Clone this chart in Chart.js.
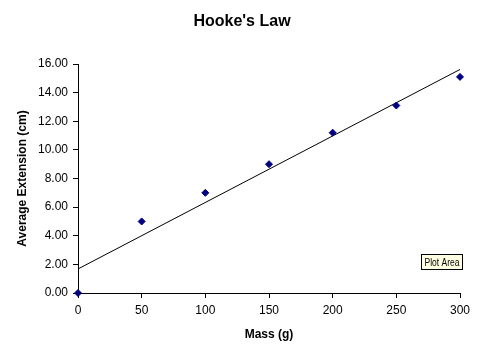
<!DOCTYPE html>
<html>
<head>
<meta charset="utf-8">
<style>
html,body{margin:0;padding:0;background:#fff;}
#wrap{width:481px;height:355px;position:relative;}
</style>
<script src="https://cdn.jsdelivr.net/npm/chart.js@4/dist/chart.umd.min.js"></script>
</head>
<body>
<div id="wrap"><canvas id="c" width="481" height="355"></canvas></div>
<script>
const massValues = [0, 50, 100, 150, 200, 250, 300];
const extensionValues = [0.00, 5.00, 7.00, 9.00, 11.20, 13.10, 15.10];
const trendMass = [0, 300];
const trendExtension = [1.68, 15.62];
const xTicks = [0, 50, 100, 150, 200, 250, 300];
const yTicks = [0, 2, 4, 6, 8, 10, 12, 14, 16];

const pointsData = massValues.map((m, i) => ({x: m, y: extensionValues[i]}));
const trendData = trendMass.map((m, i) => ({x: m, y: trendExtension[i]}));

const extras = {
  id: 'extras',
  afterDraw(chart) {
    const ctx = chart.ctx;
    ctx.save();
    // chart title
    ctx.fillStyle = '#000';
    ctx.font = 'bold 16px "Liberation Sans", Arial, sans-serif';
    ctx.textAlign = 'center';
    ctx.textBaseline = 'middle';
    ctx.fillText("Hooke's Law", 242, 22);
    // "Plot Area" label box
    const x = 421.5, y = 254.5, w = 41, h = 15;
    ctx.fillStyle = '#ffffe1';
    ctx.fillRect(x, y, w, h);
    ctx.strokeStyle = '#000';
    ctx.lineWidth = 1;
    ctx.strokeRect(x, y, w, h);
    ctx.fillStyle = '#000';
    ctx.font = '11px "Liberation Sans", Arial, sans-serif';
    const tw = ctx.measureText('Plot Area').width;
    const sx = Math.min(1, 35 / tw);
    ctx.translate(x + w / 2, y + h / 2 + 0.5);
    ctx.scale(sx, 1);
    ctx.textAlign = 'center';
    ctx.textBaseline = 'middle';
    ctx.fillText('Plot Area', 0, 0);
    ctx.restore();
  }
};

new Chart(document.getElementById('c'), {
  type: 'scatter',
  data: {
    datasets: [
      {
        type: 'line',
        data: trendData,
        borderColor: '#000',
        borderWidth: 1,
        pointRadius: 0,
        fill: false,
        tension: 0,
        order: 2
      },
      {
        data: pointsData,
        pointStyle: 'rectRot',
        pointRadius: 3.5,
        pointBackgroundColor: '#000080',
        pointBorderColor: '#000080',
        pointBorderWidth: 1,
        clip: false,
        order: 1
      }
    ]
  },
  options: {
    responsive: false,
    animation: false,
    devicePixelRatio: 1,
    layout: {padding: {left: 0, right: 21, top: 64, bottom: 0}},
    plugins: {
      legend: {display: false},
      tooltip: {enabled: false},
      title: {display: false}
    },
    scales: {
      x: {
        type: 'linear',
        min: 0, max: 300,
        afterFit(s) { s.height = 62; },
        afterBuildTicks(s) { s.ticks = xTicks.map(v => ({value: v})); },
        ticks: {
          color: '#000',
          font: {family: '"Liberation Sans", Arial, sans-serif', size: 12},
          padding: 5,
          maxRotation: 0
        },
        grid: {display: true, drawOnChartArea: false, drawTicks: true, tickLength: 5, color: '#000'},
        border: {display: true, color: '#000', width: 1},
        title: {
          display: true,
          text: 'Mass (g)',
          color: '#000',
          font: {family: '"Liberation Sans", Arial, sans-serif', size: 12, weight: 'bold'},
          padding: {top: 0, bottom: 13}
        }
      },
      y: {
        type: 'linear',
        min: 0, max: 16,
        afterFit(s) { s.width = 78; },
        afterBuildTicks(s) { s.ticks = yTicks.map(v => ({value: v})); },
        ticks: {
          color: '#000',
          font: {family: '"Liberation Sans", Arial, sans-serif', size: 12},
          padding: 5,
          callback: v => Number(v).toFixed(2)
        },
        grid: {display: true, drawOnChartArea: false, drawTicks: true, tickLength: 5, color: '#000'},
        border: {display: true, color: '#000', width: 1},
        title: {
          display: true,
          text: 'Average Extension (cm)',
          color: '#000',
          font: {family: '"Liberation Sans", Arial, sans-serif', size: 12, weight: 'bold'},
          padding: {top: 15, bottom: 0}
        }
      }
    }
  },
  plugins: [extras]
});
</script>
</body>
</html>
